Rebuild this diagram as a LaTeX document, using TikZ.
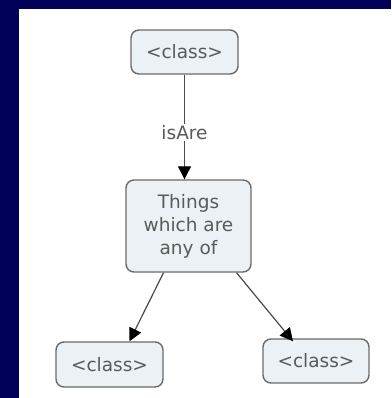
\documentclass[tikz,border=0pt]{standalone}
\usepackage{fontspec}
\setmainfont{DejaVu Sans}
\usetikzlibrary{arrows.meta}
\definecolor{navy}{HTML}{000058}
\definecolor{boxfill}{HTML}{EBF1F4}
\definecolor{boxline}{HTML}{6A6A6A}
\definecolor{txt}{HTML}{5A5A5A}
\definecolor{edge}{HTML}{4A4A4A}
\tikzset{
  concept/.style={draw=boxline, line width=1.4pt, fill=boxfill, rounded corners=8pt,
    text=txt, font=\fontsize{18.5}{23}\selectfont, align=center, inner sep=0pt},
  link/.style={draw=edge, line width=1.2pt, -{Triangle[length=13pt,width=13pt,color=black,fill=black]}},
  lbl/.style={fill=white, text=txt, font=\fontsize{18.5}{22}\selectfont, inner sep=1.5pt}
}
\begin{document}
\begin{tikzpicture}[x=1pt,y=-1pt]
\useasboundingbox (0,0) rectangle (391,398);
\fill[navy] (0,0) rectangle (391,398);
\fill[white] (19,9) rectangle (391,398);
\node[concept, minimum width=107pt, minimum height=44pt] (top) at (184.5,52) {<class>};
\node[concept, minimum width=125pt, minimum height=92pt] (mid) at (188.5,226) {Things\\which are\\any of};
\node[concept, minimum width=107pt, minimum height=45pt] (bl) at (109.5,364.5) {<class>};
\node[concept, minimum width=106pt, minimum height=44pt] (br) at (316,361) {<class>};
\draw[link] (top.south) -- node[lbl, pos=0.55] {isAre} (top.south |- mid.north);
\draw[link] ([xshift=-25pt]mid.south) -- ([xshift=20pt]bl.north);
\draw[link] ([xshift=48pt]mid.south) -- ([xshift=-23pt,yshift=-3pt]br.north);
\end{tikzpicture}
\end{document}
